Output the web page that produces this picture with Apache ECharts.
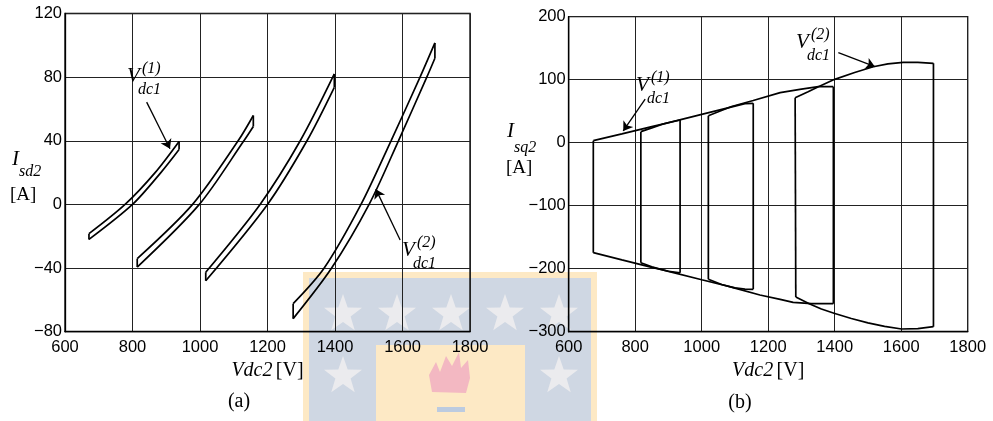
<!DOCTYPE html>
<html><head><meta charset="utf-8">
<script src="https://cdn.jsdelivr.net/npm/echarts@6/dist/echarts.min.js"></script>
<style>html,body{margin:0;padding:0;background:#fff}#c{width:993px;height:421px}</style>
</head><body><div id="c"></div>
<script>
// ---------- axis ranges / ticks ----------
const xRange = [600, 1800], xStep = 200;
const yRangeA = [-80, 120], yStepA = 40;
const yRangeB = [-300, 200], yStepB = 100;

// ---------- panel (a): Isd2 vs Vdc2, four thin bands ----------
const bandA1Upper = [[671,-18.4],[778,0],[867,20],[938,39.6]];
const bandA1Lower = [[671,-22],[800,0],[884,20],[938,34.5]];
const bandA2Upper = [[814,-34.1],[978,0],[1113,40],[1158,55.9]];
const bandA2Lower = [[814,-39.4],[998,0],[1130,40],[1158,49]];
const bandA3Upper = [[1017,-42.6],[1178,0],[1297,40],[1398,82]];
const bandA3Lower = [[1017,-48],[1200,0],[1317,40],[1398,73.6]];
const bandA4Upper = [[1276,-62.4],[1368,-40],[1477,0],[1566,40],[1652,80],[1696,101.5]];
const bandA4Lower = [[1276,-71.8],[1390,-40],[1501,0],[1588,40],[1672,80],[1696,91.9]];

// ---------- panel (b): Isq2 vs Vdc2, four loops ----------
const loopB1Top    = [[674,3.2],[760,14],[850,25.5],[905,32.5],[935,36]];
const loopB1Bottom = [[674,-174.6],[760,-186],[850,-197.8],[900,-204],[935,-206.5]];
const loopB2Top    = [[817,17.5],[850,23.5],[880,29],[1000,45],[1100,58],[1130,62],[1155,62.5]];
const loopB2Bottom = [[817,-190.5],[850,-197],[900,-204.2],[1000,-217.5],[1100,-230.5],[1130,-232.5],[1155,-232.7]];
const loopB3Top    = [[1020,42.9],[1050,49],[1090,57.5],[1155,67],[1236,79.4],[1300,85],[1351,88.9],[1396,88.9]];
const loopB3Bottom = [[1020,-216.8],[1060,-225],[1100,-230.8],[1175,-241.7],[1236,-248.6],[1275,-253.5],[1330,-255.3],[1396,-255.5]];
const loopB4Top    = [[1281,71.3],[1320,81],[1351,88.9],[1400,100.6],[1460,111.5],[1516,120.6],[1560,125],[1606,127.6],[1650,127.5],[1697,126]];
const loopB4Bottom = [[1283,-245],[1325,-256],[1360,-264],[1398,-270.8],[1450,-279],[1500,-286],[1550,-291.5],[1601,-295.7],[1650,-295],[1697,-292]];

// ---------- annotation arrows (data coords: tail, head) ----------
const arrowA1 = [[842,64.3],[911,35]];
const arrowA2 = [[1593,-22.4],[1521,9.6]];
const arrowB1 = [[830,69],[764,18.6]];
const arrowB2 = [[1411,142.9],[1521,120.6]];

const bandsA = [[bandA1Upper,bandA1Lower],[bandA2Upper,bandA2Lower],[bandA3Upper,bandA3Lower],[bandA4Upper,bandA4Lower]];
const loopsB = [[loopB1Top,loopB1Bottom],[loopB2Top,loopB2Bottom],[loopB3Top,loopB3Bottom],[loopB4Top,loopB4Bottom]];

const LINE = {color:'#000', width:1.7};
function ln(data, idx, smooth){
  return {type:'line', data:data, xAxisIndex:idx, yAxisIndex:idx, smooth:smooth,
          showSymbol:false, symbol:'none', lineStyle:LINE, silent:true, z:3, animation:false};
}
function closedShape(a, b, idx, smooth){
  return [ln(a, idx, smooth), ln(b, idx, smooth),
          ln([a[0], b[0]], idx, false),
          ln([a[a.length-1], b[b.length-1]], idx, false)];
}
const series = [];
bandsA.forEach(p => series.push(...closedShape(p[0], p[1], 0, 0.3)));
loopsB.forEach(p => series.push(...closedShape(p[0], p[1], 1, false)));
function arrow(coords, idx){
  return {type:'lines', coordinateSystem:'cartesian2d', xAxisIndex:idx, yAxisIndex:idx,
          data:[{coords:coords}], symbol:['none','arrow'], symbolSize:[0,9],
          lineStyle:{color:'#000', width:1.3, opacity:1}, silent:true, z:4, animation:false};
}
series.push(arrow(arrowA1,0), arrow(arrowA2,0), arrow(arrowB1,1), arrow(arrowB2,1));

const minus = v => String(v).replace('-', '\u2212');
const SANS = '"Liberation Sans", Arial, sans-serif';
const SERIF = '"Liberation Serif", "Times New Roman", serif';
function xAx(gi){
  return {type:'value', gridIndex:gi, min:xRange[0], max:xRange[1], interval:xStep,
    axisLine:{show:true, onZero:false, lineStyle:{color:'#000', width:1.3}}, axisTick:{show:false},
    splitLine:{show:true, lineStyle:{color:'#222', width:1}},
    axisLabel:{color:'#000', fontSize:16.5, fontFamily:SANS, margin:7, formatter:minus},
    name:'{i|Vdc2} {r|[V]}', nameLocation:'middle', nameGap:19,
    nameTextStyle:{rich:{i:{fontFamily:SERIF, fontStyle:'italic', fontSize:20, color:'#000'},
                         r:{fontFamily:SERIF, fontSize:20, color:'#000'}}}};
}
function yAx(gi, r, s){
  return {type:'value', gridIndex:gi, min:r[0], max:r[1], interval:s,
    axisLine:{show:true, onZero:false, lineStyle:{color:'#000', width:1.3}}, axisTick:{show:false},
    splitLine:{show:true, lineStyle:{color:'#222', width:1}},
    axisLabel:{color:'#000', fontSize:16.5, fontFamily:SANS, margin:3, formatter:minus}};
}

// text helper
function T(text, x, y, font, align){
  return {type:'text', x:x, y:y, z:10, silent:true,
          style:{text:text, font:font, fill:'#000', align:align||'left', verticalAlign:'middle'}};
}
const fV = 'italic 21px ' + SERIF, fS = 'italic 16px ' + SERIF;
function vLabel(x, y, sup){
  return [T('V', x, y, fV), T('('+sup+')', x+15, y-7, fS), T('dc1', x+11, y+14, fS)];
}
// watermark (logo) behind the chart
function star(cx, cy, r){
  const pts = [];
  for (let i = 0; i < 10; i++){
    const a = -Math.PI/2 + i*Math.PI/5, rr = i%2 ? r*0.4 : r;
    pts.push([cx + rr*Math.cos(a), cy + rr*Math.sin(a)]);
  }
  return {type:'polygon', z:-5, silent:true, shape:{points:pts}, style:{fill:'#ebebee'}};
}
const wm = [
  {type:'rect', z:-8, silent:true, shape:{x:303, y:272, width:294, height:160}, style:{fill:'#fde9c5'}},
  {type:'rect', z:-7, silent:true, shape:{x:309, y:278, width:282, height:150}, style:{fill:'#cfd7e3'}},
  {type:'rect', z:-6, silent:true, shape:{x:376, y:345, width:149, height:90}, style:{fill:'#fde9c5'}},
  star(343,314,20), star(397,314,20), star(451,314,20), star(505,314,20), star(559,314,20),
  star(343,376,20), star(559,376,20),
  {type:'polygon', z:-5, silent:true, shape:{points:[[432,392],[429,375],[436,362],[440,372],[446,356],[452,366],[459,352],[461,368],[468,360],[470,378],[466,393]]}, style:{fill:'#f3b8c2'}},
  {type:'rect', z:-5, silent:true, shape:{x:437, y:407, width:28, height:5}, style:{fill:'#bccbe0'}}
];

const graphics = [].concat(
  wm,
  [T('I', 12, 159, fV), T('sd2', 19, 172, fS), T('[A]', 10, 195, '19px ' + SERIF)],
  [T('I', 507, 131, fV), T('sq2', 514, 148, fS), T('[A]', 506, 168, '19px ' + SERIF)],
  vLabel(127, 76, 1), vLabel(402, 250, 2),
  vLabel(636, 85, 1), vLabel(796, 42, 2),
  [T('(a)', 239, 402, '20px ' + SERIF, 'center'), T('(b)', 740, 403, '20px ' + SERIF, 'center')]
);

const chart = echarts.init(document.getElementById('c'), null, {renderer:'canvas'});
chart.setOption({
  backgroundColor:'#fff',
  animation:false,
  grid:[
    {left:65, top:13.5, width:405, height:318.2, show:true, borderColor:'#000', borderWidth:1.3, backgroundColor:'transparent'},
    {left:568.7, top:16.7, width:399, height:315, show:true, borderColor:'#000', borderWidth:1.3, backgroundColor:'transparent'}
  ],
  xAxis:[xAx(0), xAx(1)],
  yAxis:[yAx(0, yRangeA, yStepA), yAx(1, yRangeB, yStepB)],
  graphic:graphics,
  series:series
});
</script></body></html>
